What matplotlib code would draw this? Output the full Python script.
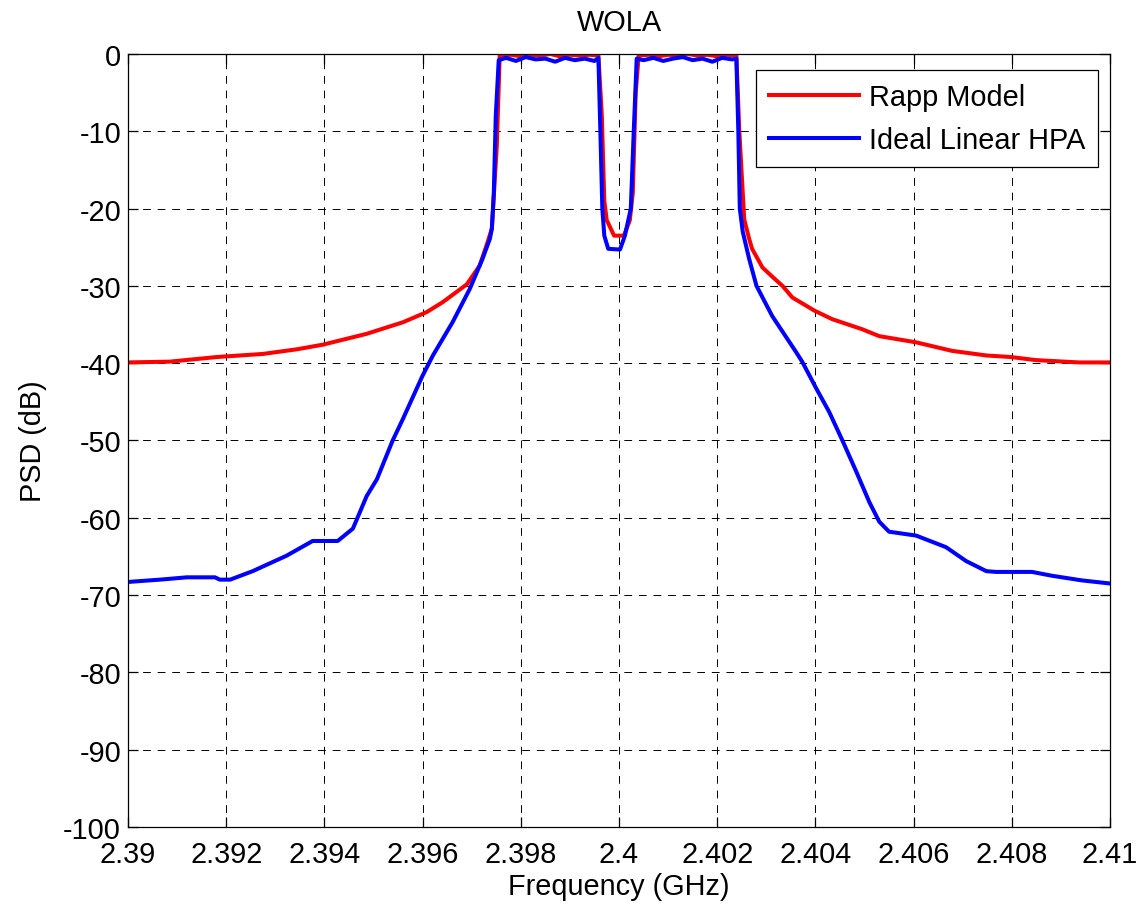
import matplotlib
matplotlib.use("Agg")
import matplotlib.pyplot as plt
from matplotlib.ticker import FuncFormatter, MultipleLocator

plt.rcParams['font.family'] = ['Liberation Sans', 'DejaVu Sans']

title = "WOLA"
xlabel = "Frequency (GHz)"
ylabel = "PSD (dB)"
labels = ["Rapp Model", "Ideal Linear HPA"]

# Rapp Model (red)
rapp_f = [2.39, 2.39085, 2.39181, 2.39275, 2.39344, 2.39397, 2.39486, 2.3956, 2.39608,
          2.39641, 2.3969, 2.39716, 2.3973, 2.39741, 2.39751, 2.39757,
          2.3978, 2.3980, 2.3982, 2.3984, 2.3986, 2.3988, 2.3990, 2.3992, 2.3994, 2.39958,
          2.39965, 2.3997, 2.39975, 2.3999, 2.4001, 2.40022, 2.40028, 2.40034, 2.4004,
          2.4006, 2.4008, 2.4010, 2.4012, 2.4014, 2.4016, 2.4018, 2.4020, 2.4022, 2.40239,
          2.40245, 2.40255, 2.40265, 2.40271, 2.40292, 2.40312, 2.40333, 2.40353, 2.40398,
          2.40434, 2.40495, 2.4053, 2.40605, 2.40678, 2.40748, 2.40798, 2.40849, 2.40937, 2.41]
rapp_db = [-39.9, -39.8, -39.2, -38.8, -38.2, -37.6, -36.2, -34.7, -33.4,
           -32.1, -29.8, -27.4, -24.8, -22.6, -12.0, -0.2,
           -0.1, -0.3, -0.1, -0.2, 0.0, -0.3, -0.1, -0.2, -0.1, -0.2,
           -8.0, -19.0, -21.5, -23.5, -23.5, -21.5, -18.0, -5.0, -0.2,
           -0.1, -0.3, -0.1, -0.2, 0.0, -0.2, -0.1, -0.3, -0.1, -0.2,
           -10.0, -21.4, -23.9, -25.2, -27.6, -28.8, -30.0, -31.5, -33.2,
           -34.3, -35.6, -36.5, -37.3, -38.4, -39.0, -39.2, -39.6, -39.9, -39.9]

# Ideal Linear HPA (blue)
lin_f = [2.39, 2.39065, 2.3912, 2.39177, 2.39187, 2.39208, 2.39254, 2.39323, 2.39376,
         2.39427, 2.39458, 2.39486, 2.39507, 2.39539, 2.3956, 2.396, 2.39621, 2.39661,
         2.39696, 2.39722, 2.39737, 2.39741, 2.39745, 2.39749, 2.39755,
         2.3977, 2.3979, 2.3981, 2.3983, 2.3985, 2.3987, 2.3989, 2.3991, 2.3993, 2.3995, 2.39958,
         2.39962, 2.39966, 2.3997, 2.39978, 2.40002, 2.40012, 2.40024, 2.4003, 2.40036,
         2.4005, 2.4007, 2.4009, 2.4011, 2.4013, 2.4015, 2.4017, 2.4019, 2.4021, 2.4023, 2.40239,
         2.40243, 2.40246, 2.40252, 2.40265, 2.4028, 2.40312, 2.40361, 2.40373, 2.40402,
         2.40428, 2.40455, 2.40483, 2.4051, 2.4053, 2.4055, 2.40605, 2.40666, 2.40707,
         2.40748, 2.40768, 2.40841, 2.40882, 2.40943, 2.41]
lin_db = [-68.3, -68.0, -67.7, -67.7, -68.0, -68.0, -66.9, -64.9, -63.0,
          -63.0, -61.4, -57.2, -55.0, -50.0, -47.2, -41.6, -39.0, -34.7,
          -30.4, -26.5, -23.9, -22.6, -18.0, -8.0, -0.8,
          -0.5, -0.9, -0.4, -0.7, -0.6, -1.0, -0.5, -0.8, -0.6, -0.9, -0.5,
          -10.0, -20.0, -23.5, -25.2, -25.3, -23.5, -20.0, -10.0, -0.6,
          -0.8, -0.5, -0.9, -0.6, -0.4, -0.8, -0.6, -1.0, -0.5, -0.7, -0.6,
          -10.0, -20.0, -23.0, -26.5, -30.0, -33.9, -38.6, -39.8, -43.3,
          -46.3, -50.0, -54.0, -58.0, -60.5, -61.8, -62.3, -63.8, -65.6,
          -66.9, -67.0, -67.0, -67.5, -68.1, -68.5]

FS = 20.8

fig = plt.figure(figsize=(11.44, 9.12), dpi=100)
ax = fig.add_axes([0.1119, 0.0921, 0.8584, 0.8476])

ax.plot(rapp_f, rapp_db, color='#ff0000', lw=2.9, label=labels[0])
ax.plot(lin_f, lin_db, color='#0000ff', lw=2.9, label=labels[1])

ax.set_xlim(2.39, 2.41)
ax.set_ylim(-100, 0)
ax.xaxis.set_major_locator(MultipleLocator(0.002))
ax.yaxis.set_major_locator(MultipleLocator(10))
ax.xaxis.set_major_formatter(FuncFormatter(lambda v, p: f"{v:.3f}".rstrip('0').rstrip('.')))
ax.yaxis.set_major_formatter(FuncFormatter(lambda v, p: f"{v:g}"))
ax.tick_params(direction='in', top=True, right=True, labelsize=FS, length=7, width=0.9)
ax.tick_params(axis='x', pad=9)
ax.tick_params(axis='y', pad=5)
ax.grid(True, color='black', linestyle=(0, (8, 7)), linewidth=0.7)
for s in ax.spines.values():
    s.set_linewidth(0.9)

ax.set_title(title, fontsize=FS, pad=17)
ax.set_xlabel(xlabel, fontsize=FS, labelpad=3)
ax.set_ylabel(ylabel, fontsize=FS, labelpad=12)

leg = ax.legend(loc='upper right', bbox_to_anchor=(0.9878, 0.979), borderaxespad=0,
                fontsize=FS, handlelength=3.1, frameon=True, fancybox=False,
                edgecolor='black', framealpha=1, borderpad=0.45, labelspacing=0.5,
                handletextpad=0.35)
leg.get_frame().set_linewidth(0.9)

fig.savefig("out.png", dpi=100)
